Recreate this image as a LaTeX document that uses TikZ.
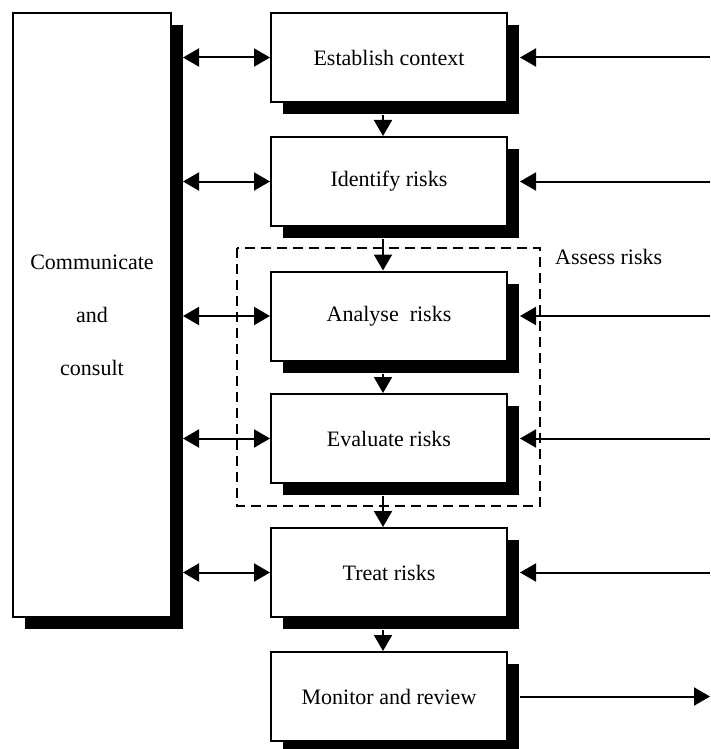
\documentclass[tikz,border=0pt]{standalone}
\usepackage{fontspec}
\setmainfont{Liberation Serif}
\usetikzlibrary{arrows.meta}
\usetikzlibrary{shadows}

\tikzset{
  procbox/.style={draw, line width=2pt, fill=white, inner sep=0pt,
    minimum width=236pt, minimum height=89pt, font=\fontsize{22}{26}\selectfont,
    drop shadow={shadow xshift=12pt, shadow yshift=-12pt, fill=black, opacity=1}},
  flow/.style={line width=2pt, -{Triangle[length=16pt,width=18pt]}},
  twoway/.style={line width=2pt, {Triangle[length=16pt,width=18pt]}-{Triangle[length=16pt,width=18pt]}},
}

\begin{document}
\begin{tikzpicture}[x=1pt,y=-1pt]
    \clip (0,0) rectangle (710,749);
    % side box
    \node[procbox, minimum width=158pt, minimum height=604pt, align=center,
          font=\fontsize{22}{53}\selectfont] (comm) at (92,315) {Communicate\\and\\consult};
    \coordinate (cedge) at (183,0);
    % process steps
    \node[procbox] (est) at (389, 57.5) {Establish context};
    \node[procbox] (idr) at (389,181.5) {Identify risks};
    \node[procbox] (ana) at (389,316.0) {Analyse\ \ risks};
    \node[procbox] (eva) at (389,438.5) {Evaluate risks};
    \node[procbox] (trt) at (389,572.5) {Treat risks};
    \node[procbox] (mon) at (389,696.5) {Monitor and review};
    % assess group
    \draw[line width=2pt, dash pattern=on 10pt off 6pt] (237,248) rectangle (540,506);
    \node[anchor=west, inner sep=0pt, font=\fontsize{22}{26}\selectfont] (ass) at (555,257) {Assess risks};
    % down arrows
    \draw[flow] ([xshift=-6pt,yshift=-12pt]est.south) -- ([xshift=-6pt]idr.north);
    \draw[flow] ([xshift=-6pt,yshift=-12pt]idr.south) -- ([xshift=-6pt]ana.north);
    \draw[flow] ([xshift=-6pt,yshift=-12pt]ana.south) -- ([xshift=-6pt]eva.north);
    \draw[flow] ([xshift=-6pt,yshift=-12pt]eva.south) -- ([xshift=-6pt]trt.north);
    \draw[flow] ([xshift=-6pt,yshift=-12pt]trt.south) -- ([xshift=-6pt]mon.north);
    % communicate links
    \foreach \n in {est,idr,ana,eva,trt}
        \draw[twoway] (cedge |- \n.west) -- (\n.west);
    % monitor links
    \foreach \n in {est,idr,ana,eva,trt}
        \draw[flow] (710,0 |- \n.east) -- ([xshift=12pt]\n.east);
    \coordinate (mout) at (710,696.5);
    \draw[flow] ([xshift=12pt]mon.east) -- (mout);
\end{tikzpicture}
\end{document}
